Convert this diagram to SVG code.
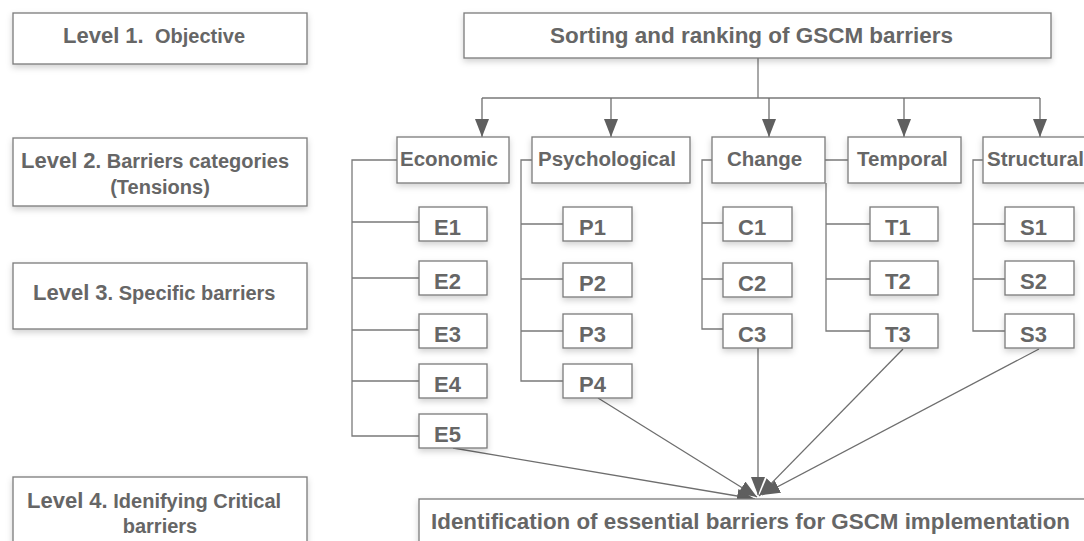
<svg xmlns="http://www.w3.org/2000/svg" width="1084" height="541" viewBox="0 0 1084 541">
<style>
.box{fill:#fff;stroke:#7a7a7a;stroke-width:1.3;filter:url(#sh)}
.t{font-family:"Liberation Sans",Arial,sans-serif;font-weight:bold;fill:#666}
.ln{fill:none;stroke:#7a7a7a;stroke-width:1.3}
.ar{fill:none;stroke:#6e6e6e;stroke-width:1.3;marker-end:url(#ah)}
.lf{font-size:22px}
.ct{font-size:20.5px}
</style>
<defs>
<filter id="sh" x="-10%" y="-20%" width="120%" height="160%">
<feDropShadow dx="0" dy="3" stdDeviation="3" flood-color="#000" flood-opacity="0.18"/>
</filter>
<marker id="ah" markerUnits="userSpaceOnUse" markerWidth="18" markerHeight="14" refX="18" refY="7" orient="auto" viewBox="0 0 18 14">
<path d="M0,0 L18,7 L0,14 z" fill="#5f5f5f"/>
</marker>
</defs>
<rect width="1084" height="541" fill="#fff"/>

<g id="level1"><rect class="box" x="13" y="13" width="294" height="51"/>
<text class="t" x="63" y="43"><tspan font-size="22">Level 1.</tspan><tspan x="155" font-size="20">Objective</tspan></text></g>
<g id="level2"><rect class="box" x="13" y="138" width="294" height="68"/>
<text class="t" x="21" y="168"><tspan font-size="22">Level 2</tspan><tspan font-size="20">. Barriers categories</tspan></text>
<text class="t" x="160" y="194" font-size="20" text-anchor="middle">(Tensions)</text></g>
<g id="level3"><rect class="box" x="13" y="263" width="294" height="66"/>
<text class="t" x="33" y="300"><tspan font-size="22">Level 3</tspan><tspan font-size="20">. Specific barriers</tspan></text></g>
<g id="level4"><rect class="box" x="13" y="477" width="294" height="80"/>
<text class="t" x="27" y="508"><tspan font-size="22">Level 4.</tspan><tspan font-size="20"> Idenifying Critical</tspan></text>
<text class="t" x="160" y="533" font-size="20" text-anchor="middle">barriers</text></g>

<g id="connectors">
<path class="ln" d="M758,58 V98 M482,98 H1040"/>
<path class="ar" d="M482,98 V137"/>
<path class="ar" d="M611,98 V137"/>
<path class="ar" d="M769,98 V137"/>
<path class="ar" d="M904,98 V137"/>
<path class="ar" d="M1040,98 V137"/>
<path class="ln" d="M397,160 H352 V436 H419 M352,222 H419 M352,278 H419 M352,330 H419 M352,381 H419"/>
<path class="ln" d="M532,160 H521 V381 H563 M521,224 H563 M521,279 H563 M521,331 H563"/>
<path class="ln" d="M712,160 H702 V329 H723 M702,223 H723 M702,279 H723"/>
<path class="ln" d="M825,160 H848 M826,183 V331 H870 M826,224 H870 M826,279 H870"/>
<path class="ln" d="M983,160 H973 V331 H1005 M973,224 H1005 M973,279 H1005"/>
<path class="ar" d="M453,448 L755,499"/>
<path class="ar" d="M598,398 L757,497"/>
<path class="ar" d="M758,348 V495"/>
<path class="ar" d="M903,349 L759,496"/>
<path class="ar" d="M1039,349 L762,495"/>
</g>

<g id="objective"><rect class="box" x="464" y="13" width="587" height="45"/>
<text class="t" x="751.5" y="43" font-size="22.5" text-anchor="middle" textLength="403" lengthAdjust="spacingAndGlyphs">Sorting and ranking of GSCM barriers</text></g>

<g id="economic"><rect class="box" x="397" y="137" width="112" height="46"/><text class="t ct" x="400" y="166">Economic</text></g>
<g id="psychological"><rect class="box" x="532" y="137" width="158" height="46"/><text class="t ct" x="538" y="166">Psychological</text></g>
<g id="change"><rect class="box" x="712" y="137" width="113" height="46"/><text class="t ct" x="727" y="166">Change</text></g>
<g id="temporal"><rect class="box" x="848" y="137" width="113" height="46"/><text class="t ct" x="857" y="166">Temporal</text></g>
<g id="structural"><rect class="box" x="983" y="137" width="114" height="46"/><text class="t ct" x="987" y="166">Structural</text></g>

<g id="E1"><rect class="box" x="419" y="207" width="68" height="34"/><text class="t lf" x="434" y="235">E1</text></g>
<g id="E2"><rect class="box" x="419" y="261" width="68" height="34"/><text class="t lf" x="434" y="289">E2</text></g>
<g id="E3"><rect class="box" x="419" y="314" width="68" height="34"/><text class="t lf" x="434" y="342">E3</text></g>
<g id="E4"><rect class="box" x="419" y="364" width="68" height="34"/><text class="t lf" x="434" y="392">E4</text></g>
<g id="E5"><rect class="box" x="419" y="414" width="68" height="34"/><text class="t lf" x="434" y="442">E5</text></g>

<g id="P1"><rect class="box" x="563" y="207" width="69" height="34"/><text class="t lf" x="579" y="235">P1</text></g>
<g id="P2"><rect class="box" x="563" y="263" width="69" height="34"/><text class="t lf" x="579" y="291">P2</text></g>
<g id="P3"><rect class="box" x="563" y="314" width="69" height="34"/><text class="t lf" x="579" y="342">P3</text></g>
<g id="P4"><rect class="box" x="563" y="364" width="69" height="34"/><text class="t lf" x="579" y="392">P4</text></g>

<g id="C1"><rect class="box" x="723" y="207" width="69" height="34"/><text class="t lf" x="738" y="235">C1</text></g>
<g id="C2"><rect class="box" x="723" y="263" width="69" height="34"/><text class="t lf" x="738" y="291">C2</text></g>
<g id="C3"><rect class="box" x="723" y="314" width="69" height="34"/><text class="t lf" x="738" y="342">C3</text></g>

<g id="T1"><rect class="box" x="870" y="207" width="68" height="34"/><text class="t lf" x="885" y="235">T1</text></g>
<g id="T2"><rect class="box" x="870" y="261" width="68" height="34"/><text class="t lf" x="885" y="289">T2</text></g>
<g id="T3"><rect class="box" x="870" y="314" width="68" height="34"/><text class="t lf" x="885" y="342">T3</text></g>

<g id="S1"><rect class="box" x="1005" y="207" width="69" height="34"/><text class="t lf" x="1020" y="235">S1</text></g>
<g id="S2"><rect class="box" x="1005" y="261" width="69" height="34"/><text class="t lf" x="1020" y="289">S2</text></g>
<g id="S3"><rect class="box" x="1005" y="314" width="69" height="34"/><text class="t lf" x="1020" y="342">S3</text></g>

<g id="critical"><rect class="box" x="419" y="499" width="700" height="60"/>
<text class="t" x="431" y="529" font-size="22.5" textLength="639" lengthAdjust="spacingAndGlyphs">Identification of essential barriers for GSCM implementation</text></g>
</svg>
